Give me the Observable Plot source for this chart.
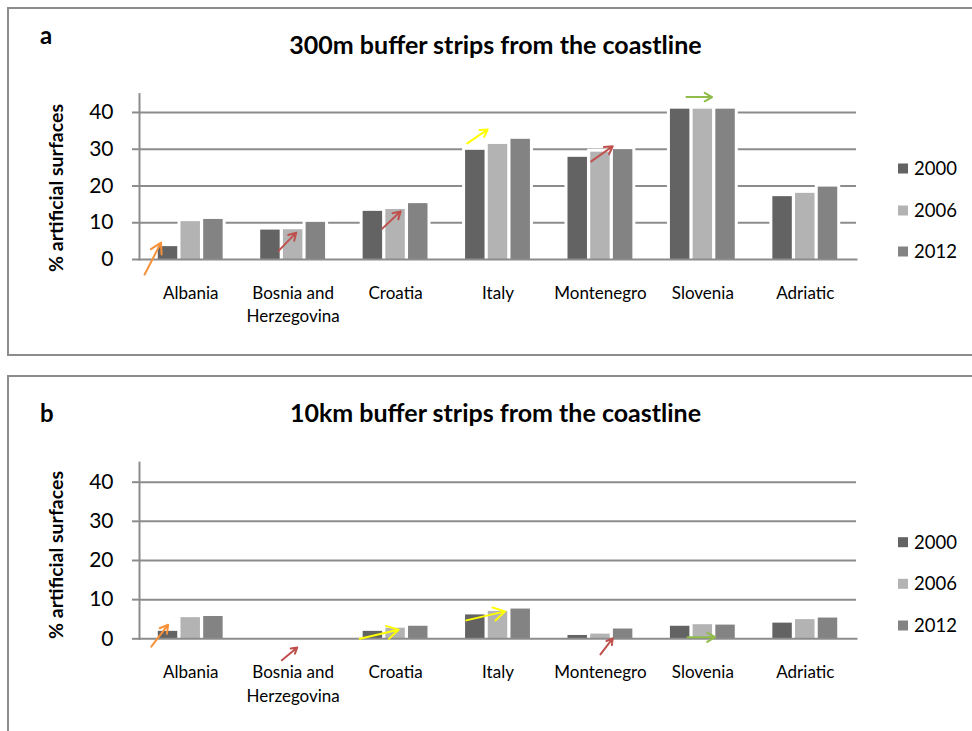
<!DOCTYPE html>
<html><head><meta charset="utf-8">
<script src="https://cdn.jsdelivr.net/npm/d3@7"></script>
<script src="https://cdn.jsdelivr.net/npm/@observablehq/plot@0.6"></script>
<style>
body{margin:0;background:#fff;font-family:Lato,sans-serif;}
#page{position:relative;width:972px;height:731px;overflow:hidden;background:#fff;}
.frame{position:absolute;border:2px solid #8c8c8c;box-sizing:border-box;}
.panel{position:absolute;left:0;}
.panel svg{overflow:visible;}
</style></head><body><div id="page"></div>
<script>
// ---- data ----
const countries = ["Albania","Bosnia and Herzegovina","Croatia","Italy","Montenegro","Slovenia","Adriatic"];
const tickLabels = ["Albania","Bosnia and\nHerzegovina","Croatia","Italy","Montenegro","Slovenia","Adriatic"];
const years = ["2000","2006","2012"];
const yTicks = [0,10,20,30,40];

// panel a: 300m buffer
const a2000 = [3.5, 8.0, 13.1, 29.7, 27.8, 40.9, 17.1];
const a2006 = [10.3, 8.1, 13.6, 31.3, 29.2, 40.9, 18.0];
const a2012 = [10.9, 10.1, 15.2, 32.7, 29.9, 40.9, 19.7];
// panel b: 10km buffer
const b2000 = [1.9, null, 1.9, 6.1, 0.85, 3.2, 4.0];
const b2006 = [5.4, null, 2.7, 7.0, 1.2, 3.6, 4.9];
const b2012 = [5.7, null, 3.2, 7.6, 2.5, 3.5, 5.3];

// trend arrows (group offset / value units)
const trendColors = {strong:"#f7923a", increase:"#c0504d", moderate:"#ffff00", stable:"#8fbc4a"};
const arrowsA = [
  {country:"Albania", trend:"strong", o1:-0.45, o2:-0.29, v1:-4.1, v2:4.6},
  {country:"Bosnia and Herzegovina", trend:"increase", o1:-0.14, o2:0.03, v1:2.4, v2:7.3},
  {country:"Croatia", trend:"increase", o1:-0.13, o2:0.05, v1:8.4, v2:13.1},
  {country:"Italy", trend:"moderate", o1:-0.30, o2:-0.10, v1:31.6, v2:35.4},
  {country:"Montenegro", trend:"increase", o1:-0.09, o2:0.12, v1:26.7, v2:30.8},
  {country:"Slovenia", trend:"stable", o1:-0.16, o2:0.09, v1:44.2, v2:44.2}
];
const arrowsB = [
  {country:"Albania", trend:"strong", o1:-0.385, o2:-0.22, v1:-2.0, v2:3.6},
  {country:"Bosnia and Herzegovina", trend:"increase", o1:-0.11, o2:0.04, v1:-5.5, v2:-2.2},
  {country:"Croatia", trend:"moderate", o1:-0.35, o2:0.03, v1:0.0, v2:2.3},
  {country:"Italy", trend:"moderate", o1:-0.31, o2:0.07, v1:4.7, v2:7.0},
  {country:"Montenegro", trend:"increase", o1:0.0, o2:0.12, v1:-4.0, v2:0.1},
  {country:"Slovenia", trend:"stable", o1:-0.15, o2:0.12, v1:0.4, v2:0.4}
];

// ---- style ----
const barColors = ["#636363","#b3b3b3","#838383"];
const gridColor = "#8c8c8c";
const yearOffset = [-0.2216, 0, 0.2216];
const barHalf = 0.095;

function rowsFor(s0, s1, s2) {
  const series = [s0, s1, s2];
  return countries.flatMap((c, i) => years.map((y, j) => ({country:c, i, year:y, j, value: series[j][i]})))
    .filter(d => d.value != null);
}

const page = document.getElementById("page");
function addFrame(top, height) {
  const f = document.createElement("div");
  f.className = "frame";
  Object.assign(f.style, {left:"7px", top: top+"px", width:"1000px", height: height+"px"});
  page.appendChild(f);
}
addFrame(7, 349);
addFrame(375, 420);

function makePanel({top, height, marginTop, marginBottom, rows, arrows, letter, title, letterY, titleY, labelY, legendY}) {
  const idx = c => countries.indexOf(c);
  const plot = Plot.plot({
    width: 972, height,
    marginLeft: 139, marginRight: 116, marginTop, marginBottom,
    style: {background:"transparent", fontFamily:"Lato, sans-serif", color:"#000", overflow:"visible"},
    x: {type:"linear", domain:[-0.5, 6.5], axis:null},
    y: {domain:[0, 45], axis:null},
    color: {type:"identity"},
    marks: [
      Plot.gridY([10,20,30,40], {stroke:gridColor, strokeOpacity:1, strokeWidth:2}),
      Plot.rect(rows, {x1: d => d.i + yearOffset[d.j] - barHalf, x2: d => d.i + yearOffset[d.j] + barHalf,
        y1: 0, y2: "value", fill: "#ffffff", insetLeft:-3, insetRight:-3, insetTop:-3}),
      Plot.rect(rows, {x1: d => d.i + yearOffset[d.j] - barHalf, x2: d => d.i + yearOffset[d.j] + barHalf,
        y1: 0, y2: "value", fill: d => barColors[d.j]}),
      Plot.frame({anchor:"left", stroke:gridColor, strokeWidth:2}),
      Plot.frame({anchor:"bottom", stroke:gridColor, strokeWidth:2}),
      Plot.axisY({ticks: yTicks, tickSize:7, tickPadding:19, fontSize:21, stroke:gridColor, strokeWidth:2,
        fill:"#000", label:null, tickFormat: d => String(d)}),
      Plot.axisX({ticks: d3.range(countries.length), tickFormat: i => tickLabels[i], tickSize:0, tickPadding:23,
        fontSize:17, lineHeight:1.37, fill:"#000", label:null}),
      Plot.arrow(arrows, {x1: d => idx(d.country) + d.o1, x2: d => idx(d.country) + d.o2, y1:"v1", y2:"v2",
        stroke: d => trendColors[d.trend], strokeWidth:2, headLength:10, headAngle:60})
    ]
  });
  const svg = d3.select(plot);
  svg.append("text").attr("x", 40).attr("y", letterY).attr("text-anchor", "start").attr("font-size", 24).attr("font-weight", "bold")
    .attr("font-family", "Lato, sans-serif").attr("fill", "#000").text(letter);
  svg.append("text").attr("x", 495.5).attr("y", titleY).attr("text-anchor", "middle").attr("font-size", 25)
    .attr("font-weight", "bold").attr("font-family", "Lato, sans-serif").attr("fill", "#000").text(title);
  svg.append("text").attr("transform", `translate(55,${labelY}) rotate(-90)`).attr("text-anchor", "middle")
    .attr("dominant-baseline", "central").attr("font-size", 19.5).attr("font-weight", "bold")
    .attr("font-family", "Lato, sans-serif").attr("fill", "#000").text("% artificial surfaces");
  const lg = svg.append("g");
  years.forEach((y, j) => {
    lg.append("rect").attr("x", 898).attr("y", legendY[j] - 4.5).attr("width", 10).attr("height", 10).attr("fill", barColors[j]);
    lg.append("text").attr("x", 914).attr("y", legendY[j]).attr("text-anchor", "start").attr("dominant-baseline", "central")
      .attr("font-size", 18.5).attr("font-family", "Lato, sans-serif").attr("fill", "#000").text(y);
  });
  const div = document.createElement("div");
  div.className = "panel";
  div.style.top = top + "px";
  div.appendChild(plot);
  page.appendChild(div);
}

makePanel({top:0, height:355, marginTop:93.6, marginBottom:96, rows: rowsFor(a2000, a2006, a2012), arrows: arrowsA,
  letter:"a", title:"300m buffer strips from the coastline", letterY:44, titleY:53.5, labelY:188, legendY:[168,210,251]});
makePanel({top:370, height:361, marginTop:92.1, marginBottom:92.7, rows: rowsFor(b2000, b2006, b2012), arrows: arrowsB,
  letter:"b", title:"10km buffer strips from the coastline", letterY:52.3, titleY:51.7, labelY:185, legendY:[171.7,213.3,255]});
</script></body></html>
